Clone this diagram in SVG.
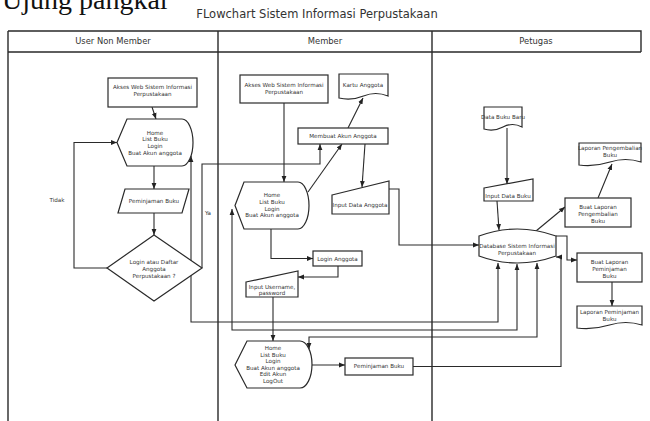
<svg xmlns="http://www.w3.org/2000/svg" width="650" height="421" viewBox="0 0 650 421">
<style>
.ln{stroke:#2a2a2a;stroke-width:1.1;fill:none}
.fr{stroke:#2a2a2a;stroke-width:1.4;fill:none}
.sh{fill:#fff;stroke:#2a2a2a;stroke-width:1.2}
.t{font-family:"DejaVu Sans",Verdana,sans-serif;font-size:5.6px;fill:#333;text-anchor:middle}
.h{font-family:"DejaVu Sans",Verdana,sans-serif;font-size:8.4px;fill:#333;text-anchor:middle}
.ti{font-family:"DejaVu Sans",Verdana,sans-serif;font-size:11.5px;fill:#333;text-anchor:middle}
</style>
<defs>
<marker id="a" viewBox="0 0 10 10" refX="10" refY="5" markerWidth="6" markerHeight="6" orient="auto-start-reverse" markerUnits="userSpaceOnUse"><path d="M0,1 L10,5 L0,9 z" fill="#222"/></marker>
</defs>
<rect width="650" height="421" fill="#fff"/>
<text x="2" y="9" font-family="Liberation Serif,serif" font-size="28" fill="#111">Ujung pangkal</text>
<text class="ti" x="317" y="18">FLowchart Sistem Informasi Perpustakaan</text>
<g id="lanes">
<path class="fr" d="M8,31 H641 V52 M8,52 H641 M8,31 V421 M218,31 V421 M432,31 V421"/>
<text class="h" x="113" y="44">User Non Member</text>
<text class="h" x="325" y="44">Member</text>
<text class="h" x="536" y="44">Petugas</text>
</g>
<g id="connectors">
<path class="ln" marker-end="url(#a)" d="M152,107 L156,119"/>
<path class="ln" marker-end="url(#a)" d="M154,166 V189"/>
<path class="ln" marker-end="url(#a)" d="M154,213 V235"/>
<path class="ln" marker-end="url(#a)" d="M107,268 H74 V142.5 H117"/>
<path class="ln" marker-end="url(#a)" d="M202,268 V164 H320 V144"/>
<path class="ln" marker-start="url(#a)" marker-end="url(#a)" d="M498,263 V322 H191 V156"/>
<path class="ln" marker-start="url(#a)" marker-end="url(#a)" d="M517,264 V330 H232 V209"/>
<path class="ln" marker-start="url(#a)" marker-end="url(#a)" d="M537,263 V337 H309 V349"/>
<path class="ln" marker-end="url(#a)" d="M413,366.5 H561 V257 H556"/>
<path class="ln" marker-end="url(#a)" d="M284,103 V182"/>
<path class="ln" marker-end="url(#a)" d="M348,128 L363,98"/>
<path class="ln" marker-end="url(#a)" d="M308,192 L342,144"/>
<path class="ln" marker-end="url(#a)" d="M365,144 L362,187"/>
<path class="ln" marker-end="url(#a)" d="M389,189 H399 V245 H479"/>
<path class="ln" marker-end="url(#a)" d="M271,229 V258.5 H313"/>
<path class="ln" marker-end="url(#a)" d="M338,266 V277 H298"/>
<path class="ln" marker-end="url(#a)" d="M273,297 V341"/>
<path class="ln" marker-end="url(#a)" d="M312,365 H345"/>
<path class="ln" marker-end="url(#a)" d="M507,128 V184"/>
<path class="ln" marker-end="url(#a)" d="M497,201 L499,230"/>
<path class="ln" marker-end="url(#a)" d="M536,231 L565,207"/>
<path class="ln" marker-end="url(#a)" d="M556,236 H567 V260 H577"/>
<path class="ln" marker-end="url(#a)" d="M598,198 L612,164"/>
<path class="ln" marker-end="url(#a)" d="M612,282 V306"/>
</g>
<text class="t" x="57" y="202">Tidak</text>
<text class="t" x="208" y="215">Ya</text>
<g id="n1"><rect class="sh" x="108" y="78" width="89" height="29"/><text class="t" x="152.5" y="89">Akses Web Sistem Informasi</text><text class="t" x="152.5" y="96">Perpustakaan</text></g>
<g id="n2"><path class="sh" d="M117,142.5 L127,119 L182,119 A11,23.5 0 0 1 182,166 L127,166 Z"/><text class="t" x="155" y="134.5">Home</text><text class="t" x="155" y="141">List Buku</text><text class="t" x="155" y="147.5">Login</text><text class="t" x="155" y="154.5">Buat Akun anggota</text></g>
<g id="n3"><path class="sh" d="M125,189 L189,189 L182,213 L118,213 Z"/><text class="t" x="154" y="203">Peminjaman Buku</text></g>
<g id="n4"><path class="sh" d="M154,235 L202,268 L154,301 L107,268 Z"/><text class="t" x="154" y="264">Login atau Daftar</text><text class="t" x="154" y="271">Anggota</text><text class="t" x="154" y="278">Perpustakaan ?</text></g>
<g id="m1"><rect class="sh" x="240" y="75" width="88" height="28"/><text class="t" x="284" y="87">Akses Web Sistem Informasi</text><text class="t" x="284" y="94">Perpustakaan</text></g>
<g id="m2"><path class="sh" d="M339,74 H388 V96 Q375.75,91 363.5,96 T339,98 Z"/><text class="t" x="363" y="87">Kartu Anggota</text></g>
<g id="m3"><rect class="sh" x="298" y="128" width="90" height="16"/><text class="t" x="343" y="138">Membuat Akun Anggota</text></g>
<g id="m4"><path class="sh" d="M332,195 L389,181 L389,214 L332,214 Z"/><text class="t" x="360" y="207">Input Data Anggota</text></g>
<g id="m5"><path class="sh" d="M235,205.5 L244,182 L298,182 A11,23.5 0 0 1 298,229 L244,229 Z"/><text class="t" x="272" y="197">Home</text><text class="t" x="272" y="204">List Buku</text><text class="t" x="272" y="210.5">Login</text><text class="t" x="272" y="217">Buat Akun anggota</text></g>
<g id="m6"><rect class="sh" x="313" y="251" width="49" height="15"/><text class="t" x="337.5" y="260.5">Login Anggota</text></g>
<g id="m7"><path class="sh" d="M246,282 L298,271 L298,297 L246,297 Z"/><text class="t" x="272" y="288.5">Input Username,</text><text class="t" x="272" y="294.5">password</text></g>
<g id="m8"><path class="sh" d="M235,365 L247,341 L300,341 A12,23.5 0 0 1 300,388 L247,388 Z"/><text class="t" x="273" y="350">Home</text><text class="t" x="273" y="356.5">List Buku</text><text class="t" x="273" y="363">Login</text><text class="t" x="273" y="369.5">Buat Akun anggota</text><text class="t" x="273" y="376">Edit Akun</text><text class="t" x="273" y="382.5">LogOut</text></g>
<g id="m9"><rect class="sh" x="345" y="358" width="68" height="17"/><text class="t" x="379" y="368">Peminjaman Buku</text></g>
<g id="p1"><path class="sh" d="M484,107 H522 V127 Q512.5,122 503,127 T484,129 Z"/><text class="t" x="503" y="119">Data Buku Baru</text></g>
<g id="p2"><path class="sh" d="M484,188 L533,179 L533,201 L484,201 Z"/><text class="t" x="508" y="198">Input Data Buku</text></g>
<g id="p3"><path class="sh" d="M479,236 Q517,222 556,236 L556,256 Q517,270 479,256 Z"/><text class="t" x="517" y="247.5">Database Sistem Informasi</text><text class="t" x="517" y="254.5">Perpustakaan</text></g>
<g id="p4"><rect class="sh" x="565" y="198" width="66" height="29"/><text class="t" x="598" y="209">Buat Laporan</text><text class="t" x="598" y="216">Pengembalian</text><text class="t" x="598" y="223">Buku</text></g>
<g id="p5"><path class="sh" d="M579,143 H641 V162 Q625.5,157 610,162 T579,165 Z"/><text class="t" x="610" y="150">Laporan Pengembalian</text><text class="t" x="610" y="157">Buku</text></g>
<g id="p6"><rect class="sh" x="577" y="253" width="65" height="29"/><text class="t" x="609.5" y="264">Buat Laporan</text><text class="t" x="609.5" y="271">Peminjaman</text><text class="t" x="609.5" y="278">Buku</text></g>
<g id="p7"><path class="sh" d="M577,306 H642 V325 Q625.75,320 609.5,325 T577,328 Z"/><text class="t" x="609.5" y="314">Laporan Peminjaman</text><text class="t" x="609.5" y="320.5">Buku</text></g>
</svg>
